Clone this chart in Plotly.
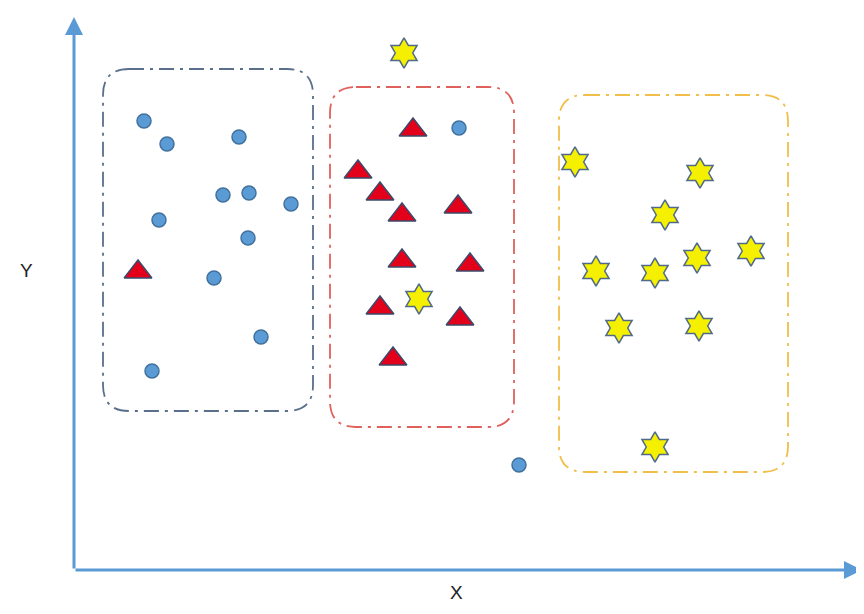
import plotly.graph_objects as go

# cluster points (x, y in chart units; origin at the axes corner)
circle_x = [70, 93, 165, 149, 175, 217, 85, 174, 140, 187, 78, 385, 445]
circle_y = [449, 426, 433, 375, 377, 366, 350, 332, 292, 233, 199, 442, 105]

triangle_x = [64, 339, 284, 306, 328, 384, 328, 396, 306, 386, 319]
triangle_y = [298, 440, 398, 376, 355, 363, 309, 305, 262, 251, 211]

star_x = [330, 345, 501, 626, 591, 677, 623, 522, 581, 545, 625, 581]
star_y = [517, 271, 408, 397, 355, 319, 312, 299, 297, 242, 244, 123]

# dashed cluster boxes: (x0, y0, x1, y1, colour)
boxes = [
    (29, 159, 239, 501, "#5a6f8c"),
    (256, 143, 440, 483, "#e0605c"),
    (485, 98, 714, 475, "#f2be4a"),
]


def rounded_box(x0, y0, x1, y1, r=26):
    return (f"M {x0+r},{y1} L {x1-r},{y1} Q {x1},{y1} {x1},{y1-r} "
            f"L {x1},{y0+r} Q {x1},{y0} {x1-r},{y0} L {x0+r},{y0} "
            f"Q {x0},{y0} {x0},{y0+r} L {x0},{y1-r} Q {x0},{y1} {x0+r},{y1} Z")


fig = go.Figure()

fig.add_trace(go.Scatter(
    x=circle_x, y=circle_y, mode="markers", cliponaxis=False,
    marker=dict(symbol="circle", size=14, color="#5b9bd5",
                line=dict(color="#41719c", width=1.5))))
fig.add_trace(go.Scatter(
    x=triangle_x, y=triangle_y, mode="markers", cliponaxis=False,
    marker=dict(symbol="triangle-up", size=24, color="#e3001b",
                line=dict(color="#3b4a6b", width=1.5))))
fig.add_trace(go.Scatter(
    x=star_x, y=star_y, mode="markers", cliponaxis=False,
    marker=dict(symbol="hexagram", size=23, color="#f5f000", angle=0,
                line=dict(color="#4f6a8a", width=1.5))))

for x0, y0, x1, y1, c in boxes:
    fig.add_shape(type="path", xref="x", yref="y", path=rounded_box(x0, y0, x1, y1),
                  line=dict(color=c, width=1.8, dash="longdashdot"))

# axes drawn as arrows
axis_col = "#5b9bd5"
fig.add_annotation(x=0, y=553, ax=0, ay=0, xref="x", yref="y", axref="x", ayref="y",
                   showarrow=True, arrowhead=2, arrowsize=1.2, arrowwidth=3,
                   arrowcolor=axis_col, text="")
fig.add_annotation(x=788, y=0, ax=0, ay=0, xref="x", yref="y", axref="x", ayref="y",
                   showarrow=True, arrowhead=2, arrowsize=1.2, arrowwidth=3,
                   arrowcolor=axis_col, text="")

fig.add_annotation(x=-0.071, y=0.54, xref="paper", yref="paper", text="Y", showarrow=False,
                   font=dict(size=19, color="#222", family="Liberation Sans"))
fig.add_annotation(x=0.487, y=-0.063, xref="paper", yref="paper", text="X", showarrow=False,
                   font=dict(size=19, color="#222", family="Liberation Sans"))

fig.update_xaxes(range=[0, 786], visible=False)
fig.update_yaxes(range=[0, 555], visible=False)
# page body adds 8px, so margins are trimmed to keep the axes corner at (74, 570)
fig.update_layout(width=864, height=614, showlegend=False,
                  margin=dict(l=66, r=12, t=7, b=52),
                  plot_bgcolor="white", paper_bgcolor="white")

fig.write_html("out.html")
